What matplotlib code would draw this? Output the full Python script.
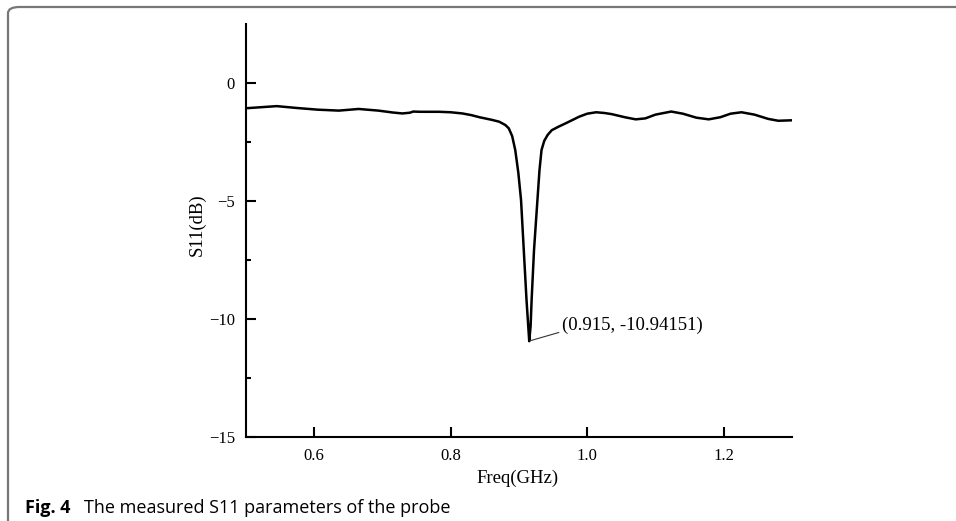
import numpy as np
import matplotlib
matplotlib.use('Agg')
import matplotlib.pyplot as plt
from matplotlib.patches import FancyBboxPatch

# measured S11 curve
freq = [0.500, 0.520, 0.545, 0.575, 0.605, 0.636, 0.665, 0.694, 0.715, 0.729,
        0.740, 0.745, 0.755, 0.783, 0.800, 0.817, 0.830, 0.842, 0.860, 0.871,
        0.880, 0.885, 0.890, 0.8945, 0.899, 0.903, 0.907, 0.911, 0.915, 0.917,
        0.9185, 0.922, 0.927, 0.930, 0.933, 0.937, 0.942, 0.948, 0.958, 0.969,
        0.988, 1.000, 1.013, 1.025, 1.036, 1.055, 1.071, 1.085, 1.100, 1.123,
        1.140, 1.160, 1.178, 1.195, 1.210, 1.226, 1.245, 1.265, 1.280, 1.300]
s11 = [-1.07, -1.03, -0.98, -1.06, -1.13, -1.17, -1.10, -1.17, -1.25, -1.29,
       -1.26, -1.21, -1.22, -1.22, -1.24, -1.29, -1.36, -1.45, -1.56, -1.64,
       -1.78, -1.92, -2.25, -2.84, -3.80, -4.96, -7.08, -9.19, -10.94, -10.30,
       -9.19, -7.08, -4.96, -3.70, -2.84, -2.45, -2.20, -2.00, -1.85, -1.70,
       -1.43, -1.30, -1.24, -1.27, -1.32, -1.45, -1.54, -1.50, -1.34, -1.21,
       -1.30, -1.47, -1.54, -1.45, -1.30, -1.24, -1.34, -1.52, -1.60, -1.58]

x_ticks = [0.6, 0.8, 1.0, 1.2]
y_ticks = [0, -5, -10, -15]
min_point = (0.915, -10.94151)

serif = 'Liberation Serif'

fig = plt.figure(figsize=(9.56, 5.21), dpi=100)

# rounded frame of the figure panel (open to the right and bottom)
frame = FancyBboxPatch((8 / 956, -0.2), 1.2, 1 - 7 / 521 + 0.2,
                       boxstyle='round,pad=0,rounding_size=0.012',
                       transform=fig.transFigure, fill=False,
                       edgecolor='#777777', linewidth=1.6)
fig.patches.append(frame)

ax = fig.add_axes([246 / 956, 84 / 521, 546 / 956, 413 / 521])
ax.plot(freq, s11, color='black', linewidth=1.8)

ax.set_xlim(0.5, 1.3)
ax.set_ylim(-15, 2.5)
ax.set_xticks(x_ticks)
ax.set_xticklabels(['%.1f' % v for v in x_ticks], family=serif, size=12)
ax.set_yticks(y_ticks)
ax.set_yticklabels(['%d' % v if v >= 0 else '\u2212%d' % -v for v in y_ticks],
                   family=serif, size=12)
ax.set_yticks([-2.5, -7.5, -12.5], minor=True)

for s in ['top', 'right']:
    ax.spines[s].set_visible(False)
for s in ['left', 'bottom']:
    ax.spines[s].set_linewidth(1.5)
ax.tick_params(which='major', direction='in', length=7, width=1.5, pad=8)
ax.tick_params(which='minor', direction='in', length=3.5, width=1.5)

ax.set_xlabel('Freq(GHz)', family=serif, size=13.5)
ax.xaxis.set_label_coords(0.497, -0.08)
ax.set_ylabel('S11(dB)', family=serif, size=13.5, va='center')
ax.yaxis.set_label_coords(-0.0897, 0.513)

ax.annotate('(%.3f, %.5f)' % min_point, xy=(0.9165, -10.92),
            xytext=(0.9625, -10.28), family=serif, size=13.5,
            ha='left', va='center',
            arrowprops=dict(arrowstyle='-', color='#333333', lw=0.8,
                            relpos=(0, 0.15), shrinkA=0, shrinkB=0))

# caption
fig.text(25 / 956, 8 / 521, 'Fig. 4', family='Open Sans', weight='bold',
         size=13, va='baseline')
fig.text(84 / 956, 8 / 521, 'The measured S11 parameters of the probe',
         family='Open Sans', size=13, va='baseline')

plt.savefig('out.png', dpi=100)
print("plot success!")
